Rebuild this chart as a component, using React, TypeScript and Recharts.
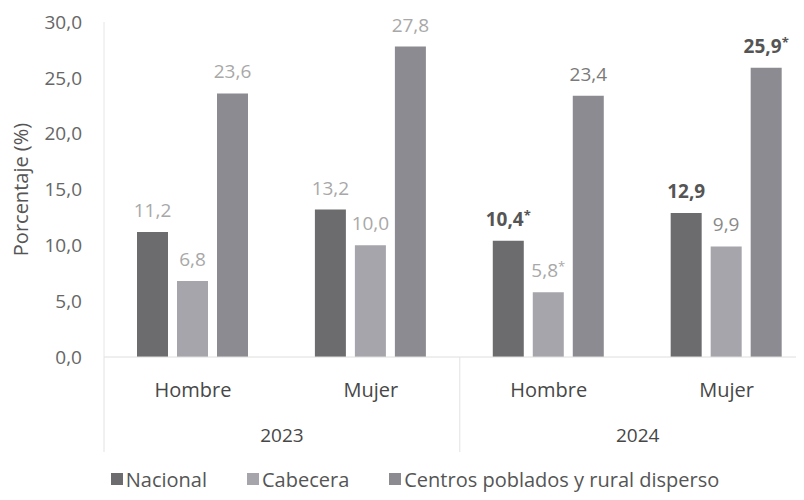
import React from "react";
import { BarChart, Bar, XAxis, YAxis, Legend, LabelList } from "recharts";

const categories = ["Hombre", "Mujer", "Hombre", "Mujer"];
const years = ["2023", "2024"];
const nacional = [11.2, 13.2, 10.4, 12.9];
const cabecera = [6.8, 10.0, 5.8, 9.9];
const rural = [23.6, 27.8, 23.4, 25.9];
const nacionalSig = [false, false, true, false];
const cabeceraSig = [false, false, true, false];
const ruralSig = [false, false, false, true];
const yTicks = [0, 5, 10, 15, 20, 25, 30];
const seriesNames = ["Nacional", "Cabecera", "Centros poblados y rural disperso"];

const FONT = "'Open Sans', 'DejaVu Sans', sans-serif";
const COLORS = ["#6c6c6f", "#a5a5ab", "#8b8b91"];

// visual tone of each value label (style only)
const TONE_LIGHT = { fill: "#a8a8a8", weight: 400 };
const TONE_MID = { fill: "#7a7a7a", weight: 400 };
const TONE_MID2 = { fill: "#8a8a8a", weight: 400 };
const TONE_BOLD = { fill: "#555555", weight: 700 };
const labelTones = [
  [TONE_LIGHT, TONE_LIGHT, TONE_BOLD, TONE_BOLD],
  [TONE_LIGHT, TONE_LIGHT, TONE_LIGHT, TONE_MID2],
  [TONE_LIGHT, TONE_LIGHT, TONE_MID, TONE_BOLD],
];
const sigs = [nacionalSig, cabeceraSig, ruralSig];

const data = categories.map((c, i) => ({
  x: i + 0.5,
  category: c,
  nacional: nacional[i],
  cabecera: cabecera[i],
  rural: rural[i],
}));

// tick metadata for the two-level axis
const tickInfo = new Map<number, { kind: string; text?: string }>();
years.forEach((yr, i) => {
  tickInfo.set(i * 2, { kind: "sep" });
  tickInfo.set(i * 2 + 1, { kind: "year", text: yr });
});
categories.forEach((c, i) => tickInfo.set(i + 0.5, { kind: "cat", text: c }));
const labelTicks = Array.from(tickInfo.keys()).sort((a, b) => a - b);

const fmt = (v: number) => v.toFixed(1).replace(".", ",");

const TwoLevelTick = (props: any) => {
  const { x, y, payload } = props;
  const info = tickInfo.get(payload.value);
  if (!info) return null;
  if (info.kind === "sep") {
    return <line x1={x} x2={x} y1={y} y2={y + 95} stroke="#e2e2e2" strokeWidth={1} />;
  }
  if (info.kind === "cat") {
    return (
      <text x={x} y={y + 40} textAnchor="middle" fontSize={20} fill="#474747" fontFamily={FONT}>
        {info.text}
      </text>
    );
  }
  return (
    <text x={x} y={y + 85} textAnchor="middle" fontSize={19} fill="#474747" fontFamily={FONT}>
      {info.text}
    </text>
  );
};

const makeValueLabel = (s: number) => (props: any) => {
  const { x, y, width, index, value } = props;
  const tone = labelTones[s][index];
  return (
    <text
      x={x + width / 2}
      y={y - 15}
      textAnchor="middle"
      fontSize={19}
      fill={tone.fill}
      fontWeight={tone.weight}
      fontFamily={FONT}
    >
      {fmt(value)}
      {sigs[s][index] ? (
        <tspan fontSize={13} dy={-6}>
          *
        </tspan>
      ) : null}
    </text>
  );
};

const LegendContent = () => (
  <div
    style={{
      display: "flex",
      justifyContent: "center",
      alignItems: "center",
      paddingLeft: 26,
      height: 30,
      fontFamily: FONT,
      fontSize: 20,
      color: "#555",
    }}
  >
    {seriesNames.map((n, i) => (
      <div key={n} style={{ display: "flex", alignItems: "center", marginLeft: i ? 40 : 0 }}>
        <span style={{ width: 12, height: 12, background: COLORS[i], marginRight: 3, display: "inline-block" }} />
        <span>{n}</span>
      </div>
    ))}
  </div>
);

const YLabel = (props: any) => {
  const { viewBox } = props;
  const cx = viewBox.x;
  const cy = viewBox.y + viewBox.height / 2;
  return (
    <text
      transform={`translate(${cx}, ${cy}) rotate(-90)`}
      textAnchor="middle"
      dominantBaseline="central"
      fontSize={20}
      fill="#555"
      fontFamily={FONT}
    >
      Porcentaje (%)
    </text>
  );
};

export default function App() {
  return (
    <div style={{ position: "absolute", left: 0, top: 0, width: 804, height: 500, background: "#fff" }}>
      <BarChart
        width={804}
        height={500}
        data={data}
        margin={{ top: 22, right: 8, bottom: 13, left: 20 }}
        barSize={31}
        barGap={9}
      >
        <XAxis
          xAxisId="labels"
          type="number"
          dataKey="x"
          domain={[0, 3.89]}
          ticks={labelTicks}
          interval={0}
          allowDataOverflow
          height={100}
          tickSize={0}
          tickMargin={0}
          tickLine={false}
          axisLine={{ stroke: "#dedede" }}
          tick={<TwoLevelTick />}
        />
        <XAxis
          xAxisId="bars"
          type="number"
          dataKey="x"
          domain={[0, 3.89]}
          ticks={[0.5, 1.5, 2.5, 3.5]}
          allowDataOverflow
          height={0}
          hide
        />
        <YAxis
          domain={[0, 30]}
          ticks={yTicks}
          width={84}
          tickSize={0}
          tickMargin={22}
          tickLine={false}
          axisLine={{ stroke: "#e6e6e6" }}
          tickFormatter={fmt}
          tick={{ fontSize: 19, fill: "#666", fontFamily: FONT }}
          label={{ content: <YLabel /> } as any}
        />
        <Legend
          verticalAlign="bottom"
          height={30}
          wrapperStyle={{ left: 0, top: 464, width: 804 }}
          content={() => <LegendContent />}
        />
        <Bar xAxisId="bars" dataKey="nacional" name={seriesNames[0]} fill={COLORS[0]} isAnimationActive={false}>
          <LabelList dataKey="nacional" content={makeValueLabel(0)} />
        </Bar>
        <Bar xAxisId="bars" dataKey="cabecera" name={seriesNames[1]} fill={COLORS[1]} isAnimationActive={false}>
          <LabelList dataKey="cabecera" content={makeValueLabel(1)} />
        </Bar>
        <Bar xAxisId="bars" dataKey="rural" name={seriesNames[2]} fill={COLORS[2]} isAnimationActive={false}>
          <LabelList dataKey="rural" content={makeValueLabel(2)} />
        </Bar>
      </BarChart>
    </div>
  );
}
